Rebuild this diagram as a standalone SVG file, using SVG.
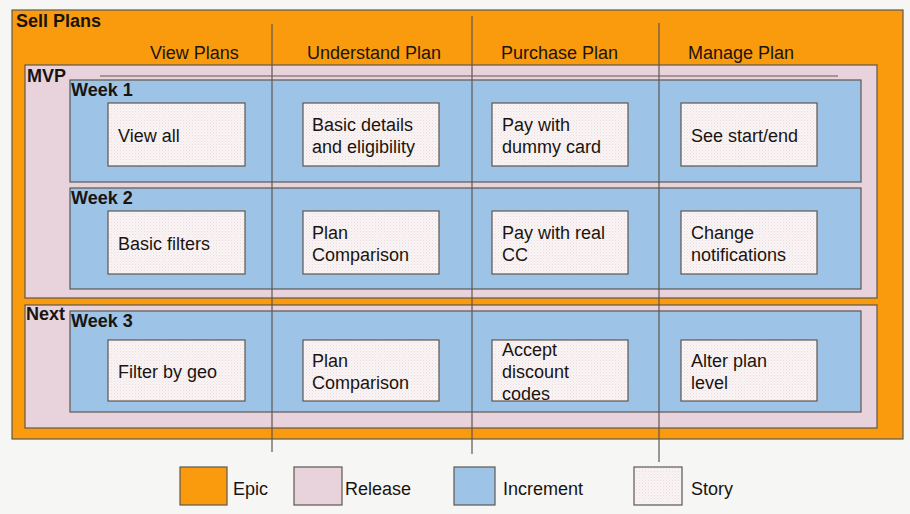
<svg xmlns="http://www.w3.org/2000/svg" width="910" height="514" viewBox="0 0 910 514">
<defs>
<pattern id="dots" width="3" height="3" patternUnits="userSpaceOnUse">
<rect width="3" height="3" fill="#f9f5f5"/>
<rect x="0" y="0" width="1" height="1" fill="#efd9e0"/>
<rect x="1.5" y="1.5" width="1" height="1" fill="#f3e3e8"/>
</pattern>
<style>
.epic{fill:#f99b0d;stroke:#5e5750;stroke-width:1.2}
.rel{fill:#e8d3dc;stroke:#5e5750;stroke-width:1.2}
.inc{fill:#9dc3e6;stroke:#5e5750;stroke-width:1.2}
.story{fill:url(#dots);stroke:#5e5750;stroke-width:1.2}
.ln{stroke:#5e5750;stroke-width:1.2;fill:none}
text{font-family:"Liberation Sans",Arial,sans-serif;font-size:18px;fill:#1a1410}
.b{font-weight:bold}
</style>
</defs>
<rect width="910" height="514" fill="#f6f6f4"/>

<g id="epic-sell-plans">
<rect class="epic" x="12" y="10" width="891" height="429"/>
<text class="b" x="16" y="27">Sell Plans</text>
<text x="150" y="59">View Plans</text>
<text x="307" y="59">Understand Plan</text>
<text x="501" y="59">Purchase Plan</text>
<text x="688" y="59">Manage Plan</text>
</g>

<g id="release-mvp">
<rect class="rel" x="25" y="65" width="852" height="233"/>
<text class="b" x="27" y="82">MVP</text>
</g>

<g id="release-next">
<rect class="rel" x="25" y="305" width="852" height="123"/>
<text class="b" x="26" y="320">Next</text>
</g>

<g id="week1">
<rect class="inc" x="70" y="80" width="791" height="102"/>
<text class="b" x="71" y="96">Week 1</text>
</g>
<g id="week2">
<rect class="inc" x="70" y="188" width="791" height="101"/>
<text class="b" x="71" y="204">Week 2</text>
</g>
<g id="week3">
<rect class="inc" x="70" y="311" width="791" height="101"/>
<text class="b" x="71" y="327">Week 3</text>
</g>

<g id="connectors">
<line class="ln" x1="100" y1="76" x2="838" y2="76"/>
<line class="ln" x1="272" y1="24" x2="272" y2="452"/>
<line class="ln" x1="472" y1="16" x2="472" y2="454"/>
<line class="ln" x1="659" y1="23" x2="659" y2="462"/>
</g>

<g id="s-view-all"><rect class="story" x="108" y="103" width="137" height="63"/><text x="118" y="142">View all</text></g>
<g id="s-basic-details"><rect class="story" x="303" y="103" width="136" height="63"/><text x="312" y="131">Basic details</text><text x="312" y="153">and eligibility</text></g>
<g id="s-pay-dummy"><rect class="story" x="492" y="103" width="136" height="63"/><text x="502" y="131">Pay with</text><text x="502" y="153">dummy card</text></g>
<g id="s-start-end"><rect class="story" x="681" y="103" width="136" height="63"/><text x="691" y="142">See start/end</text></g>

<g id="s-basic-filters"><rect class="story" x="108" y="211" width="137" height="63"/><text x="118" y="250">Basic filters</text></g>
<g id="s-plan-comp-1"><rect class="story" x="303" y="211" width="136" height="63"/><text x="312" y="239">Plan</text><text x="312" y="261">Comparison</text></g>
<g id="s-pay-real"><rect class="story" x="492" y="211" width="136" height="63"/><text x="502" y="239">Pay with real</text><text x="502" y="261">CC</text></g>
<g id="s-change-notif"><rect class="story" x="681" y="211" width="136" height="63"/><text x="691" y="239">Change</text><text x="691" y="261">notifications</text></g>

<g id="s-filter-geo"><rect class="story" x="108" y="340" width="137" height="61"/><text x="118" y="378">Filter by geo</text></g>
<g id="s-plan-comp-2"><rect class="story" x="303" y="340" width="136" height="61"/><text x="312" y="367">Plan</text><text x="312" y="389">Comparison</text></g>
<g id="s-discount"><rect class="story" x="492" y="340" width="136" height="61"/><text x="502" y="356">Accept</text><text x="502" y="378">discount</text><text x="502" y="400">codes</text></g>
<g id="s-alter-level"><rect class="story" x="681" y="340" width="136" height="61"/><text x="691" y="367">Alter plan</text><text x="691" y="389">level</text></g>

<g id="legend">
<rect class="epic" x="180" y="467" width="47" height="38"/><text x="233" y="495">Epic</text>
<rect class="rel" x="294" y="467" width="48" height="38"/><text x="345" y="495">Release</text>
<rect class="inc" x="454" y="467" width="41" height="38"/><text x="503" y="495">Increment</text>
<rect class="story" x="634" y="467" width="48" height="38"/><text x="691" y="495">Story</text>
</g>
</svg>
